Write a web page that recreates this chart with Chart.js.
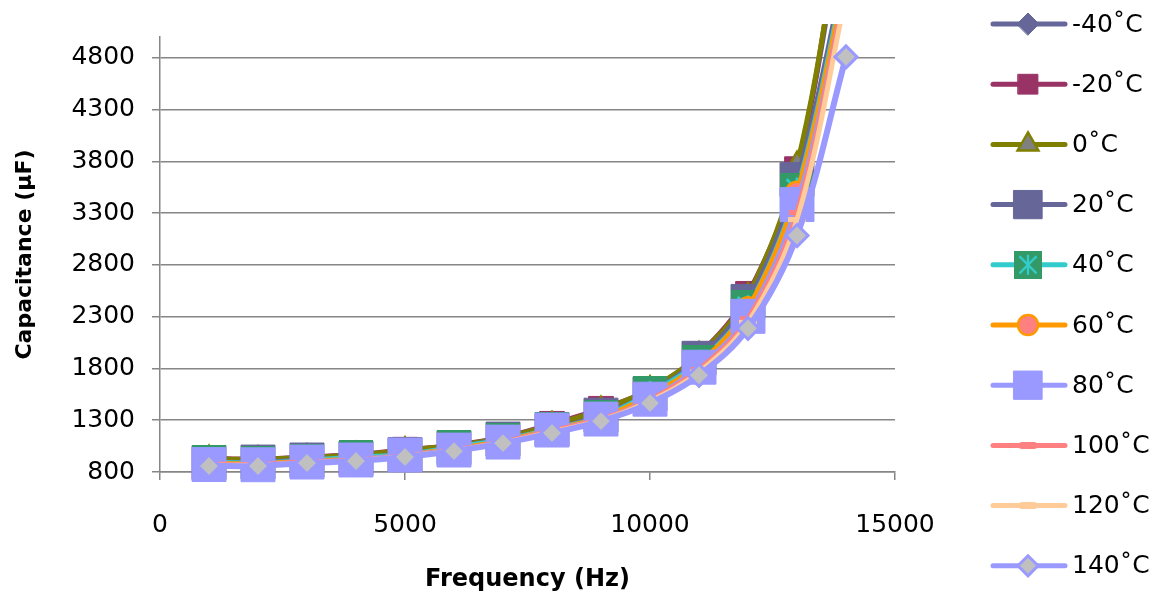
<!DOCTYPE html>
<html>
<head>
<meta charset="utf-8">
<script src="https://cdn.jsdelivr.net/npm/chart.js@4.4.1/dist/chart.umd.min.js"></script>
<style>
  html, body { margin: 0; padding: 0; background: #fff; }
  canvas { display: block; }
</style>
</head>
<body>
<canvas id="chart" width="1160" height="599"></canvas>
<script>
// frequency (Hz) on x, capacitance (µF) on y
const frequencies = [1000, 2000, 3000, 4000, 5000, 6000, 7000, 8000, 9000, 10000, 11000, 12000, 13000, 14000];
const seriesNames = ["-40\u02DAC", "-20\u02DAC", "0\u02DAC", "20\u02DAC", "40\u02DAC", "60\u02DAC", "80\u02DAC", "100\u02DAC", "120\u02DAC", "140\u02DAC"];

const capMinus40 = [925, 920, 940, 962, 1005, 1050, 1125, 1245, 1390, 1580, 1915, 2490, 3740, 6300];
const capMinus20 = [930, 925, 945, 968, 1015, 1058, 1135, 1265, 1410, 1595, 1935, 2520, 3724, 6450];
const cap0 = [928, 922, 942, 965, 1010, 1055, 1130, 1255, 1400, 1600, 1930, 2500, 3767, 6380];
const cap20 = [890, 896, 916, 935, 968, 1035, 1118, 1210, 1349, 1555, 1898, 2447, 3623, 5700];
const cap40 = [896, 888, 910, 945, 966, 1041, 1110, 1215, 1330, 1561, 1860, 2390, 3526, 5620];
const cap60 = [885, 880, 905, 925, 962, 1025, 1100, 1210, 1325, 1540, 1845, 2380, 3497, 5560];
const cap80 = [872, 870, 896, 916, 964, 1012, 1089, 1205, 1311, 1503, 1812, 2303, 3382, 5460];
const cap100 = [878, 874, 898, 915, 955, 1015, 1090, 1198, 1310, 1498, 1790, 2280, 3305, 5480];
const cap120 = [868, 866, 890, 910, 950, 1008, 1085, 1188, 1300, 1485, 1765, 2245, 3237, 5400];
const cap140 = [858, 858, 887, 906, 945, 1002, 1079, 1176, 1291, 1465, 1734, 2187, 3083, 4808];

const yTickValues = [800, 1300, 1800, 2300, 2800, 3300, 3800, 4300, 4800];
const xTickValues = [0, 5000, 10000, 15000];

const allSeries = [capMinus40, capMinus20, cap0, cap20, cap40, cap60, cap80, cap100, cap120, cap140];

// green square with turquoise asterisk (40˚C marker)
function starSquare(size) {
  const c = document.createElement("canvas");
  c.width = size;
  c.height = size;
  const g = c.getContext("2d");
  g.fillStyle = "#339966";
  g.fillRect(0, 0, size, size);
  g.strokeStyle = "#33CCCC";
  g.lineWidth = size / 12;
  const m = size / 2, a = size * 0.36, d = a * 0.85;
  g.beginPath();
  g.moveTo(m, m - a); g.lineTo(m, m + a);
  g.moveTo(m - d, m - d); g.lineTo(m + d, m + d);
  g.moveTo(m + d, m - d); g.lineTo(m - d, m + d);
  g.stroke();
  return c;
}

const styles = [
  { line: "#666699", fill: "#666699", border: "#666699", point: "rectRot", r: 12, bw: 1, lr: 11 },
  { line: "#993366", fill: "#993366", border: "#993366", point: "rect", r: 17.5, bw: 1, lr: 14 },
  { line: "#808000", fill: "#808080", border: "#808000", point: "triangle", r: 13, bw: 2.5, lr: 12 },
  { line: "#666699", fill: "#666699", border: "#666699", point: "rect", r: 24, bw: 1, lr: 20 },
  { line: "#33CCCC", fill: "#339966", border: "#33CCCC", point: starSquare(34), bw: 0, legendPoint: starSquare(28) },
  { line: "#FF9900", fill: "#FF8080", border: "#FF9900", point: "circle", r: 11, bw: 2.5, lr: 10 },
  { line: "#9999FF", fill: "#9999FF", border: "#9999FF", point: "rect", r: 24, bw: 1, lr: 20 },
  { line: "#FF8080", fill: "#FF8080", border: "#FF8080", point: "line", r: 8, bw: 5, lr: 6 },
  { line: "#FFCC99", fill: "#FFCC99", border: "#FFCC99", point: "line", r: 9, bw: 5, lr: 6 },
  { line: "#9999FF", fill: "#C0C0C0", border: "#9999FF", point: "rectRot", r: 11, bw: 3, lr: 10 }
];

const datasets = seriesNames.map((name, i) => ({
  label: name,
  data: frequencies.map((f, k) => ({ x: f, y: allSeries[i][k] })),
  borderColor: styles[i].line,
  borderWidth: i === 9 ? 6 : 5,
  backgroundColor: styles[i].fill,
  pointStyle: styles[i].point,
  pointRadius: styles[i].r || 17,
  pointBackgroundColor: styles[i].fill,
  pointBorderColor: styles[i].border,
  pointBorderWidth: styles[i].bw,
  tension: 0.35,
  order: seriesNames.length - i,
  clip: { left: 40, top: 13, right: 40, bottom: 30 }
}));

const FONT = "'DejaVu Sans', sans-serif";

// legend on the right: line + marker + label
const sideLegend = {
  id: "sideLegend",
  afterDraw(chart) {
    const ctx = chart.ctx;
    chart.data.datasets.forEach((ds, i) => {
      const y = 24 + i * 60.2;
      const st = styles[i];
      ctx.save();
      ctx.lineCap = "round";
      ctx.strokeStyle = st.line;
      ctx.lineWidth = 5;
      ctx.beginPath();
      ctx.moveTo(993, y);
      ctx.lineTo(1065, y);
      ctx.stroke();
      ctx.fillStyle = st.fill;
      ctx.strokeStyle = st.border;
      const bw = st.point === "line" ? 7 : st.bw;
      ctx.lineWidth = bw;
      Chart.helpers.drawPoint(ctx, {
        pointStyle: st.legendPoint || st.point,
        radius: st.lr || 14,
        rotation: 0,
        borderWidth: bw
      }, 1028, y);
      ctx.fillStyle = "#000";
      ctx.font = "25px " + FONT;
      ctx.textAlign = "left";
      ctx.textBaseline = "middle";
      ctx.fillText(ds.label, 1072, y + 1);
      ctx.restore();
    });
  }
};

Chart.defaults.font.family = FONT;
Chart.defaults.color = "#000";

new Chart(document.getElementById("chart"), {
  type: "line",
  data: { datasets },
  plugins: [sideLegend],
  options: {
    responsive: false,
    animation: false,
    devicePixelRatio: 1,
    layout: { padding: { top: 37, right: 265, left: 0, bottom: 0 } },
    plugins: { legend: { display: false }, tooltip: { enabled: false } },
    scales: {
      x: {
        type: "linear",
        min: 0,
        max: 15000,
        afterBuildTicks: (scale) => { scale.ticks = xTickValues.map(v => ({ value: v })); },
        afterFit: (scale) => { scale.height = 127; },
        ticks: { font: { size: 25 }, padding: 30, maxRotation: 0, callback: v => String(v) },
        grid: { drawOnChartArea: false, drawTicks: true, tickLength: 8, color: "#868686", lineWidth: 1.5 },
        border: { color: "#868686", width: 1.5 },
        title: { display: true, text: "Frequency (Hz)", font: { size: 24, weight: "bold" }, padding: { top: 0, bottom: 5 } }
      },
      y: {
        min: 800,
        max: 5000,
        afterBuildTicks: (scale) => { scale.ticks = yTickValues.map(v => ({ value: v })); },
        afterFit: (scale) => { scale.width = 160; },
        ticks: { font: { size: 25 }, padding: 17, callback: v => String(v) },
        grid: { color: "#868686", lineWidth: 1.5, tickLength: 8 },
        border: { color: "#868686", width: 1.5 },
        title: { display: true, text: "Capacitance (\u00B5F)", font: { size: 22, weight: "bold" }, padding: { top: 12, bottom: 0 } }
      }
    }
  }
});
</script>
</body>
</html>
